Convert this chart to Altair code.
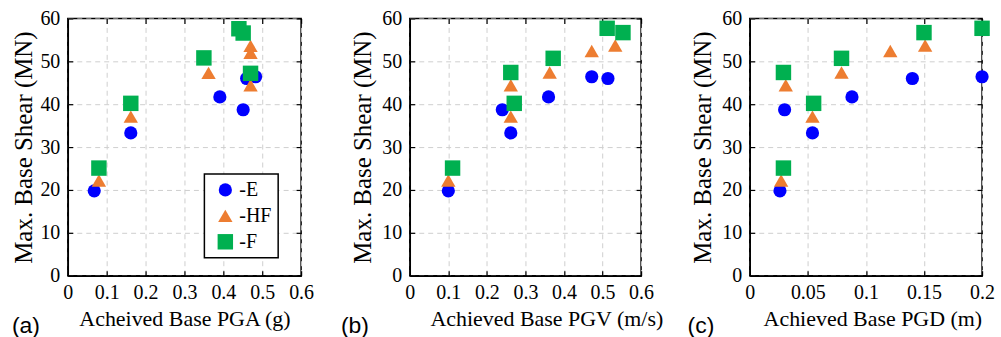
import altair as alt
import pandas as pd

series = ["-E", "-HF", "-F"]
colors = ["#0000FF", "#ED7D31", "#00B050"]
shapes = ["circle", "triangle-up", "square"]
sizes = [175, 240, 190]

y_ticks = [0, 10, 20, 30, 40, 50, 60]
pga_ticks = [0, 0.1, 0.2, 0.3, 0.4, 0.5, 0.6]
pgv_ticks = [0, 0.1, 0.2, 0.3, 0.4, 0.5, 0.6]
pgd_ticks = [0, 0.05, 0.1, 0.15, 0.2]

# Panel (a): achieved base PGA (g)
pga_E = [0.068, 0.162, 0.391, 0.451, 0.460, 0.483]
shear_a_E = [19.8, 33.3, 41.7, 38.7, 46.0, 46.4]
pga_HF = [0.080, 0.162, 0.362, 0.470, 0.470, 0.470]
shear_a_HF = [22.2, 37.1, 47.3, 53.6, 52.0, 44.4]
pga_F = [0.080, 0.162, 0.350, 0.440, 0.451, 0.470]
shear_a_F = [25.1, 40.2, 50.8, 57.6, 56.6, 47.2]

# Panel (b): achieved base PGV (m/s)
pgv_E = [0.100, 0.240, 0.262, 0.360, 0.472, 0.514]
shear_b_E = [19.8, 38.7, 33.3, 41.7, 46.4, 46.0]
pgv_HF = [0.100, 0.262, 0.262, 0.363, 0.472, 0.533]
shear_b_HF = [22.2, 44.4, 37.1, 47.4, 52.4, 53.7]
pgv_F = [0.111, 0.262, 0.271, 0.372, 0.512, 0.553]
shear_b_F = [25.1, 47.4, 40.2, 50.7, 57.7, 56.7]

# Panel (c): achieved base PGD (m)
pgd_E = [0.026, 0.030, 0.054, 0.088, 0.140, 0.200]
shear_c_E = [19.8, 38.7, 33.3, 41.7, 46.0, 46.4]
pgd_HF = [0.027, 0.031, 0.054, 0.079, 0.121, 0.151]
shear_c_HF = [22.2, 44.4, 37.1, 47.4, 52.4, 53.7]
pgd_F = [0.029, 0.029, 0.055, 0.079, 0.150, 0.200]
shear_c_F = [25.1, 47.4, 40.2, 50.7, 56.7, 57.7]

SERIF = "Liberation Serif"
H = 258

axis_style = dict(
    labelFont=SERIF, labelFontSize=20, labelColor="black", labelFlush=False,
    titleFont=SERIF, titleFontWeight="normal", titleColor="black",
    domainColor="black", domainWidth=1.5,
    gridColor="#cfcfcf", gridDash=[5, 4], gridWidth=1,
)


def make_df(xs, ys):
    rows = []
    for s, xl, yl in zip(series, xs, ys):
        for xv, yv in zip(xl, yl):
            rows.append({"series": s, "x": xv, "y": yv})
    return pd.DataFrame(rows)


def panel(df, xmax, xticks, xtitle, letter, letter_dx, width, title_x, ytitle_pad, show_legend):
    xscale = alt.Scale(domain=[0, xmax], nice=False, zero=True)
    yscale = alt.Scale(domain=[0, 60], nice=False)
    if show_legend:
        legend = alt.Legend(
            title=None, orient="none", legendX=137, legendY=156,
            strokeColor="black", fillColor="white",
            padding=6, labelFont=SERIF, labelFontSize=20, labelColor="black",
            symbolStrokeWidth=0, rowPadding=6, labelOffset=4,
            symbolOffset=5,
        )
    else:
        legend = None
    pts = alt.Chart(df).mark_point(filled=True, opacity=1, strokeWidth=0).encode(
        x=alt.X("x:Q", scale=xscale, axis=alt.Axis(
            values=xticks, format="~g", title=xtitle, grid=True, ticks=False,
            labelPadding=7, titlePadding=6, titleX=title_x, titleFontSize=22,
            labelOverlap=False, **axis_style)),
        y=alt.Y("y:Q", scale=yscale, axis=alt.Axis(
            values=y_ticks, title="Max. Base Shear (MN)", grid=True, ticks=False,
            labelPadding=8, titlePadding=ytitle_pad, titleFontSize=25, **axis_style)),
        color=alt.Color("series:N", scale=alt.Scale(domain=series, range=colors), legend=legend),
        shape=alt.Shape("series:N", scale=alt.Scale(domain=series, range=shapes), legend=legend),
        size=alt.Size("series:N", scale=alt.Scale(domain=series, range=sizes), legend=legend),
    )
    tick_common = dict(labels=False, domain=False, grid=False, ticks=True,
                       tickSize=5, tickColor="black", tickWidth=1.2, title=None, offset=-5)
    tick_tr = alt.Chart(df).mark_point(opacity=0).encode(
        x=alt.X("x:Q", scale=xscale, axis=alt.Axis(orient="top", values=xticks, **tick_common)),
        y=alt.Y("y:Q", scale=yscale, axis=alt.Axis(orient="right", values=y_ticks, **tick_common)),
    )
    tick_bl = alt.Chart(df).mark_point(opacity=0).encode(
        x=alt.X("x:Q", scale=xscale, axis=alt.Axis(orient="bottom", values=xticks, **tick_common)),
        y=alt.Y("y:Q", scale=yscale, axis=alt.Axis(orient="left", values=y_ticks, **tick_common)),
    )
    lab = alt.Chart(pd.DataFrame({"t": [letter]})).mark_text(
        font="Liberation Sans", fontSize=23, align="center", baseline="middle", color="black"
    ).encode(text="t:N", x=alt.value(letter_dx), y=alt.value(H + 50))
    return alt.layer(pts, tick_tr, tick_bl, lab).resolve_axis(
        x="independent", y="independent").properties(width=width, height=H)


pa = panel(make_df([pga_E, pga_HF, pga_F], [shear_a_E, shear_a_HF, shear_a_F]),
           0.6, pga_ticks, "Acheived Base PGA (g)", "(a)", -42, 234, 117, 3, True)
pb = panel(make_df([pgv_E, pgv_HF, pgv_F], [shear_b_E, shear_b_HF, shear_b_F]),
           0.6, pgv_ticks, "Achieved Base PGV (m/s)", "(b)", -55, 232, 137, 6, False)
pc = panel(make_df([pgd_E, pgd_HF, pgd_F], [shear_c_E, shear_c_HF, shear_c_F]),
           0.2, pgd_ticks, "Achieved Base PGD (m)", "(c)", -49, 233, 123, 6, False)

chart = alt.hconcat(alt.hconcat(pa, pb, spacing=25), pc, spacing=22).resolve_scale(
    color="independent", shape="independent", size="independent"
).properties(
    padding={"left": 11, "top": 7, "right": 5, "bottom": 2},
    background="white",
).configure_view(
    stroke="black", strokeWidth=1.5
).configure_legend(
    strokeWidth=1.5
)

chart.save("out.html", embed_options={"renderer": "svg", "actions": False})
